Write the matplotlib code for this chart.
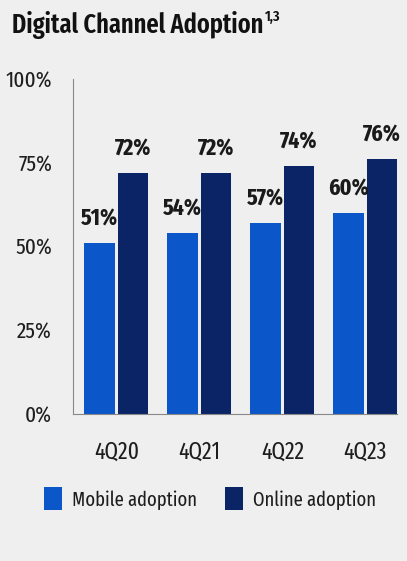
import matplotlib.pyplot as plt
import numpy as np

# narrow humanist sans first, plain sans as fallback
plt.rcParams['font.family'] = ['Fira Sans Extra Condensed', 'Fira Sans Condensed', 'Archivo Narrow',
                               'Liberation Sans', 'DejaVu Sans']

quarters = ['4Q20', '4Q21', '4Q22', '4Q23']
mobile = [51, 54, 57, 60]
online = [72, 72, 74, 76]
yticks = [0, 25, 50, 75, 100]

bg = '#efefef'
mobile_color = '#0b56c8'
online_color = '#0b2465'

fig = plt.figure(figsize=(4.07, 5.61), dpi=100, facecolor=bg)
ax = fig.add_axes([0.179, 0.262, 0.796, 0.597], facecolor=bg)

x = np.arange(len(quarters))
w = 0.37
b1 = ax.bar(x - 0.2, mobile, w, color=mobile_color, label='Mobile adoption')
b2 = ax.bar(x + 0.2, online, w, color=online_color, label='Online adoption')

for bars, vals in [(b1, mobile), (b2, online)]:
    for bar, v in zip(bars, vals):
        ax.text(bar.get_x() + bar.get_width() / 2, v + 3.8, f'{v}%',
                ha='center', va='bottom', fontsize=17, fontweight='bold', color='#1a1a1a')

ax.set_xlim(-0.525, 3.38)
ax.set_ylim(0, 100)
ax.set_yticks(yticks)
ax.set_yticklabels([f'{t}%' for t in yticks], fontsize=16.5, color='#1e1e1e')
ax.set_xticks(x)
ax.set_xticklabels(quarters, fontsize=17, color='#1e1e1e')
ax.tick_params(axis='y', length=0, pad=15)
ax.tick_params(axis='x', length=0, pad=19)
for s in ['top', 'right']:
    ax.spines[s].set_visible(False)
for s in ['left', 'bottom']:
    ax.spines[s].set_color('#888888')
    ax.spines[s].set_linewidth(0.8)

title = fig.text(0.03, 0.956, 'Digital Channel Adoption', fontsize=19, fontweight='semibold',
                 ha='left', va='center', color='#111111')
ax.annotate('1,3', xy=(1, 0.78), xycoords=title, xytext=(1, 0), textcoords='offset points',
            fontsize=11, fontweight='semibold', ha='left', va='center', color='#111111',
            annotation_clip=False)

fig.legend(handles=[b1, b2], loc='center', bbox_to_anchor=(0.516, 0.111), ncol=2,
           frameon=False, fontsize=14.5, handlelength=0.9, handleheight=1.4,
           columnspacing=1.4, handletextpad=0.5, labelcolor='#1e1e1e')

fig.savefig('out.png', dpi=100, facecolor=bg)
